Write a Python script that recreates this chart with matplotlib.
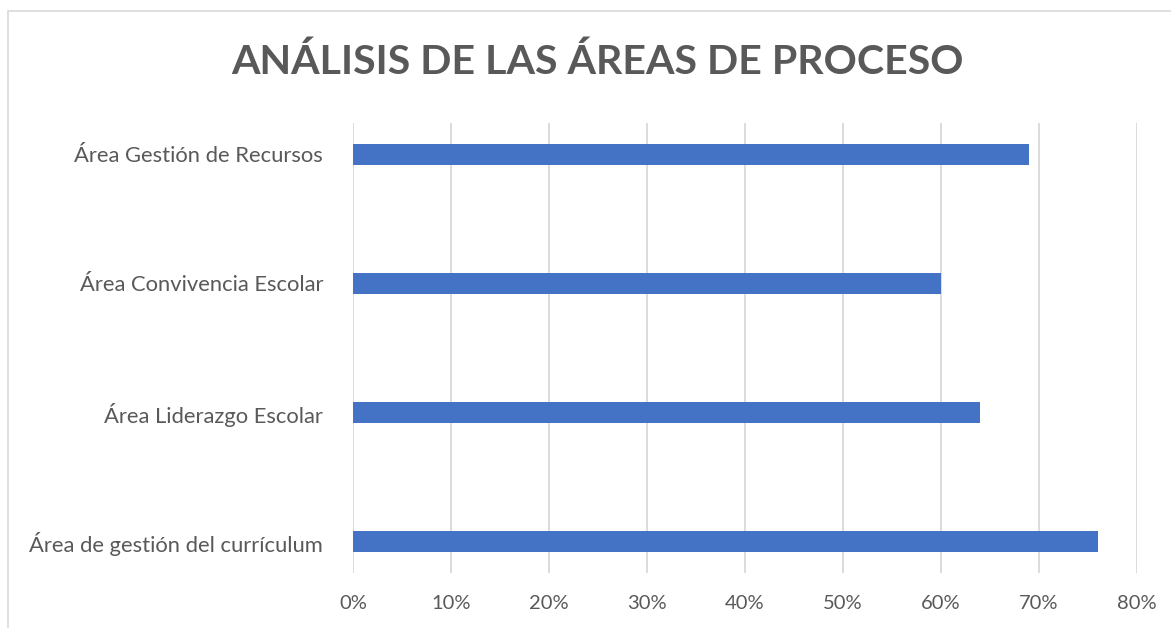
import matplotlib
matplotlib.use('Agg')
import matplotlib.pyplot as plt
from matplotlib.patches import Rectangle
from matplotlib.ticker import FuncFormatter

# data (bottom to top as drawn)
areas = ['Área de gestión del currículum', 'Área Liderazgo Escolar',
         'Área Convivencia Escolar', 'Área Gestión de Recursos']
values = [0.76, 0.64, 0.60, 0.69]
xticks = [0.0, 0.1, 0.2, 0.3, 0.4, 0.5, 0.6, 0.7, 0.8]

TXT = '#595959'
GRID = '#D9D9D9'
BAR = '#4472C4'

plt.rcParams['font.family'] = ['Lato', 'DejaVu Sans']

W, H = 1171, 628
fig = plt.figure(figsize=(W / 100, H / 100), dpi=100)

# chart border (cropped on right and bottom)
fig.patches.append(Rectangle((8 / W, -0.1), 1.2, 1 - 11 / H + 0.1,
                             transform=fig.transFigure, fill=False,
                             edgecolor='#D9D9D9', linewidth=1.2))

ax = fig.add_axes([353 / W, 1 - 573 / H, (1137 - 353) / W, (573 - 123) / H])
ax.barh(range(len(areas)), values, height=0.17, color=BAR, zorder=3)

ax.set_xlim(0, 0.8)
ax.set_ylim(-0.244, len(areas) - 1 + 0.244)
ax.set_xticks(xticks)
ax.xaxis.set_major_formatter(FuncFormatter(lambda v, p: '{:.0f}%'.format(v * 100)))
ax.set_yticks(range(len(areas)))
ax.set_yticklabels(areas)
ax.grid(axis='x', color=GRID, linewidth=1.3, zorder=0)
for s in ax.spines.values():
    s.set_visible(False)
ax.tick_params(axis='both', length=0, colors=TXT)
ax.tick_params(axis='x', pad=16, labelsize=14.5)
ax.tick_params(axis='y', pad=21.5, labelsize=15.8)

fig.text(597 / W, 1 - 62 / H, 'ANÁLISIS DE LAS ÁREAS DE PROCESO',
         ha='center', va='center', fontsize=29.6, fontweight='bold', color=TXT)

fig.savefig('out.png', dpi=100)
